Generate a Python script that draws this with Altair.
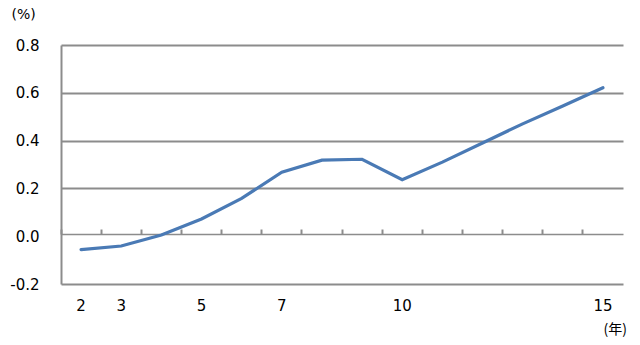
import altair as alt
import pandas as pd

years = [2, 3, 4, 5, 6, 7, 8, 9, 10, 11, 12, 13, 14, 15]
values = [-0.056, -0.041, 0.005, 0.072, 0.158, 0.268, 0.318, 0.322, 0.236, 0.31, 0.39, 0.47, 0.545, 0.621]
shown_labels = [2, 3, 5, 7, 10, 15]
y_ticks = [-0.2, 0.0, 0.2, 0.4, 0.6, 0.8]

df = pd.DataFrame({"year": years, "value": values})

W, H = 562, 239
FONT = "DejaVu Sans"
GRID = "#8c8c8c"

label_expr = "indexof([" + ",".join(str(v) for v in shown_labels) + "], toNumber(datum.value)) >= 0 ? datum.label : ''"

x_scale = alt.Scale(domain=years, paddingInner=0, paddingOuter=0)
y_scale = alt.Scale(domain=[-0.2, 0.8], nice=False, zero=False)

line = alt.Chart(df).mark_line(color="#4a7ab5", strokeWidth=3.2, strokeCap="round").encode(
    x=alt.X("year:O", scale=x_scale, sort=years,
            axis=alt.Axis(title="(年)", labelAngle=0, labelExpr=label_expr, ticks=False,
                          domain=False, labelPadding=14, labelFontSize=15, labelFont=FONT,
                          labelColor="#000", titleFont="Noto Sans CJK JP", titleFontSize=14,
                          titleFontWeight="normal", titleAnchor="start", titleX=542, titleY=38,
                          titleAlign="left", titleBaseline="top", titleColor="#000")),
    y=alt.Y("value:Q", scale=y_scale,
            axis=alt.Axis(values=y_ticks, format=".1f",
                          labelExpr="replace(datum.label, '\u2212', '-')",
                          title="(%)", titleAngle=0,
                          titleX=-50, titleY=-38, titleAlign="left", titleBaseline="top",
                          titleFont=FONT, titleFontSize=14, titleFontWeight="normal",
                          titleColor="#000", labelFontSize=15, labelFont=FONT, labelColor="#000",
                          labelPadding=22, ticks=False, domainColor=GRID, domainWidth=2,
                          grid=True,
                          gridColor={"condition": {"test": "datum.value == 0", "value": "transparent"}, "value": GRID},
                          gridWidth=2.2)),
)

zero_axis = alt.Chart(df).mark_rule(opacity=0).encode(
    x=alt.X("year:O", scale=x_scale, sort=years,
            axis=alt.Axis(orient="top", offset=-189, title=None, labels=False, ticks=True,
                          tickSize=5, tickColor=GRID, tickWidth=2, bandPosition=0,
                          domainColor=GRID, domainWidth=1.6)),
)

chart = alt.layer(line, zero_axis).resolve_axis(x="independent").properties(
    width=W, height=H,
    autosize=alt.AutoSizeParams(type="none"),
    padding={"left": 61, "top": 45, "right": 17, "bottom": 61},
    background="white",
).configure_view(stroke=None)

chart.save("out.html", embed_options={"renderer": "svg", "actions": False})
